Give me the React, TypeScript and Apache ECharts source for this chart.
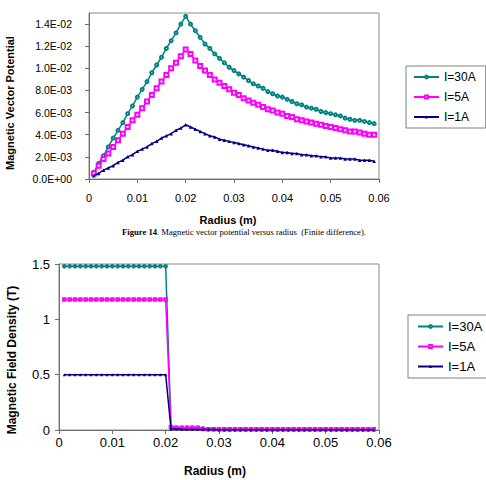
import React, { useEffect, useRef } from "react";
import * as echarts from "echarts";

const seriesNames = ["I=30A", "I=5A", "I=1A"];
const colors = ["#008080", "#FF00FF", "#000080"];

const radius = [
  0.001, 0.002, 0.003, 0.004, 0.005, 0.006, 0.007, 0.008, 0.009, 0.010,
  0.011, 0.012, 0.013, 0.014, 0.015, 0.016, 0.017, 0.018, 0.019, 0.020,
  0.021, 0.022, 0.023, 0.024, 0.025, 0.026, 0.027, 0.028, 0.029, 0.030,
  0.031, 0.032, 0.033, 0.034, 0.035, 0.036, 0.037, 0.038, 0.039, 0.040,
  0.041, 0.042, 0.043, 0.044, 0.045, 0.046, 0.047, 0.048, 0.049, 0.050,
  0.051, 0.052, 0.053, 0.054, 0.055, 0.056, 0.057, 0.058, 0.059,
];

// Magnetic vector potential
const aI30 = [
  0.0006, 0.0014, 0.0021, 0.0029, 0.0037, 0.0044, 0.0051, 0.0059, 0.0066, 0.0074,
  0.0081, 0.0088, 0.0096, 0.0103, 0.0110, 0.0118, 0.0125, 0.0132, 0.0140, 0.0147,
  0.0140, 0.0134, 0.0128, 0.0122, 0.0118, 0.0113, 0.0109, 0.0105, 0.0101, 0.0098,
  0.0095, 0.0092, 0.0089, 0.0086, 0.0084, 0.0082, 0.0079, 0.0077, 0.0075, 0.0074,
  0.0072, 0.0070, 0.0068, 0.0067, 0.0065, 0.0064, 0.0063, 0.0061, 0.0060, 0.0059,
  0.0058, 0.0057, 0.0055, 0.0054, 0.0053, 0.0053, 0.0052, 0.0051, 0.0050,
];
const aI5 = [
  0.0005, 0.0012, 0.0018, 0.0023, 0.0029, 0.0035, 0.0041, 0.0047, 0.0053, 0.0058,
  0.0064, 0.0070, 0.0076, 0.0082, 0.0088, 0.0094, 0.0100, 0.0105, 0.0111, 0.0117,
  0.0113, 0.0107, 0.0102, 0.0098, 0.0094, 0.0090, 0.0087, 0.0084, 0.0081, 0.0078,
  0.0076, 0.0073, 0.0071, 0.0069, 0.0067, 0.0065, 0.0063, 0.0062, 0.0060, 0.0059,
  0.0057, 0.0056, 0.0054, 0.0053, 0.0052, 0.0051, 0.0050, 0.0049, 0.0048, 0.0047,
  0.0046, 0.0045, 0.0044, 0.0043, 0.0043, 0.0042, 0.0041, 0.0040, 0.0040,
];
const aI1 = [
  0.0003, 0.0005, 0.0008, 0.0010, 0.0012, 0.0015, 0.0017, 0.0020, 0.0022, 0.0025,
  0.0027, 0.0029, 0.0032, 0.0034, 0.0037, 0.0039, 0.0041, 0.0044, 0.0046, 0.0049,
  0.0047, 0.0045, 0.0043, 0.0041, 0.0039, 0.0038, 0.0036, 0.0035, 0.0034, 0.0033,
  0.0032, 0.0031, 0.0030, 0.0029, 0.0028, 0.0027, 0.0026, 0.0026, 0.0025, 0.0024,
  0.0024, 0.0023, 0.0023, 0.0022, 0.0022, 0.0021, 0.0021, 0.0020, 0.0020, 0.0019,
  0.0019, 0.0019, 0.0018, 0.0018, 0.0018, 0.0017, 0.0017, 0.0017, 0.0016,
];

// Magnetic field density (T)
const bI30 = [
  1.48, 1.48, 1.48, 1.48, 1.48, 1.48, 1.48, 1.48, 1.48, 1.48,
  1.48, 1.48, 1.48, 1.48, 1.48, 1.48, 1.48, 1.48, 1.48, 1.48,
  0.03, 0.02, 0.02, 0.02, 0.02, 0.02, 0.015, 0.006, 0.006, 0.005,
  0.005, 0.005, 0.005, 0.005, 0.005, 0.005, 0.005, 0.005, 0.005, 0.005,
  0.005, 0.005, 0.005, 0.005, 0.005, 0.005, 0.005, 0.005, 0.005, 0.005,
  0.005, 0.005, 0.005, 0.005, 0.005, 0.005, 0.005, 0.005, 0.005,
];
const bI5 = [
  1.18, 1.18, 1.18, 1.18, 1.18, 1.18, 1.18, 1.18, 1.18, 1.18,
  1.18, 1.18, 1.18, 1.18, 1.18, 1.18, 1.18, 1.18, 1.18, 1.18,
  0.025, 0.02, 0.02, 0.02, 0.02, 0.02, 0.01, 0.007, 0.007, 0.007,
  0.007, 0.007, 0.007, 0.007, 0.007, 0.007, 0.007, 0.007, 0.007, 0.007,
  0.007, 0.007, 0.007, 0.007, 0.007, 0.007, 0.007, 0.007, 0.007, 0.007,
  0.007, 0.007, 0.007, 0.007, 0.007, 0.007, 0.007, 0.007, 0.007,
];
const bI1 = [
  0.50, 0.50, 0.50, 0.50, 0.50, 0.50, 0.50, 0.50, 0.50, 0.50,
  0.50, 0.50, 0.50, 0.50, 0.50, 0.50, 0.50, 0.50, 0.50, 0.50,
  0.01, 0.008, 0.006, 0.005, 0.005, 0.004, 0.004, 0.004, 0.004, 0.003,
  0.003, 0.003, 0.003, 0.003, 0.003, 0.003, 0.003, 0.003, 0.003, 0.003,
  0.003, 0.003, 0.003, 0.003, 0.003, 0.003, 0.003, 0.003, 0.003, 0.003,
  0.003, 0.003, 0.003, 0.003, 0.003, 0.003, 0.003, 0.003, 0.003,
];

const topYTicks = [0, 0.002, 0.004, 0.006, 0.008, 0.01, 0.012, 0.014];

const FONT = "'Liberation Sans', Arial, sans-serif";
const SERIF = "'Liberation Serif', 'Times New Roman', serif";
const AXIS_COLOR = "#6e6e6e";

function sci(v: number): string {
  if (v > 0.0141) return "";
  const [m, e] = v.toExponential(1).split("e");
  const n = parseInt(e, 10);
  const sign = n < 0 ? "-" : "+";
  const abs = Math.abs(n);
  return m + "E" + sign + (abs < 10 ? "0" + abs : String(abs));
}

function pairs(ys: number[]) {
  return radius.map((r, i) => [r, ys[i]]);
}

export default function App() {
  const ref = useRef<HTMLDivElement>(null);

  useEffect(() => {
    if (!ref.current) return;
    const chart = echarts.init(ref.current, null, { renderer: "svg" });

    const xAxisBase = (gridIndex: number, fontSize: number, margin: number) => ({
      type: "value",
      gridIndex,
      min: 0,
      max: 0.06,
      interval: 0.01,
      axisLine: { show: true, onZero: false, lineStyle: { color: AXIS_COLOR, width: 1 } },
      axisTick: { show: true, length: 4, lineStyle: { color: AXIS_COLOR } },
      axisLabel: { color: "#000", fontSize, fontFamily: FONT, margin },
      splitLine: { show: false },
    });

    const topSymbols = ["emptyCircle", "emptyRect", "triangle"];
    const topSizes = [3, 4, 3.5];
    const botSymbols = ["emptyCircle", "emptyRect", "triangle"];
    const botSizes = [2.5, 2.5, 3];
    const aData = [aI30, aI5, aI1];
    const bData = [bI30, bI5, bI1];

    const series: any[] = [];
    for (let i = 0; i < 3; i++) {
      series.push({
        type: "line",
        name: seriesNames[i],
        xAxisIndex: 0,
        yAxisIndex: 0,
        data: pairs(aData[i]),
        symbol: topSymbols[i],
        symbolSize: topSizes[i],
        showAllSymbol: true,
        lineStyle: { color: colors[i], width: 1.5 },
        itemStyle: { color: colors[i], borderWidth: 1 },
        z: 3 + i,
      });
    }
    for (let i = 0; i < 3; i++) {
      series.push({
        type: "line",
        name: seriesNames[i],
        xAxisIndex: 1,
        yAxisIndex: 1,
        data: pairs(bData[i]),
        symbol: botSymbols[i],
        symbolSize: botSizes[i],
        showAllSymbol: true,
        lineStyle: { color: colors[i], width: 1.5 },
        itemStyle: { color: colors[i], borderWidth: 1 },
        z: 3 + i,
      });
    }

    const legendBase = {
      orient: "vertical",
      itemWidth: 25,
      itemHeight: 3.5,
      borderColor: "#808080",
      borderWidth: 1,
      backgroundColor: "#fff",
      data: seriesNames,
      selectedMode: false,
    };

    chart.setOption({
      animation: false,
      backgroundColor: "#fff",
      textStyle: { fontFamily: FONT },
      grid: [
        { left: 89, top: 13, width: 290, height: 166, show: true, borderColor: "#8c8c8c", borderWidth: 1, backgroundColor: "#fff" },
        { left: 59, top: 264, width: 320, height: 166, show: true, borderColor: "#8c8c8c", borderWidth: 1, backgroundColor: "#fff" },
      ],
      xAxis: [xAxisBase(0, 11, 13), xAxisBase(1, 13, 6)],
      yAxis: [
        {
          type: "value",
          gridIndex: 0,
          min: 0,
          max: 0.015,
          interval: 0.002,
          axisLine: { show: true, onZero: false, lineStyle: { color: AXIS_COLOR, width: 1 } },
          axisTick: { show: true, length: 4, lineStyle: { color: AXIS_COLOR }, customValues: topYTicks },
          axisLabel: { color: "#000", fontSize: 10.5, fontFamily: FONT, margin: 17, formatter: sci, customValues: topYTicks },
          splitLine: { show: false },
        },
        {
          type: "value",
          gridIndex: 1,
          min: 0,
          max: 1.5,
          interval: 0.5,
          axisLine: { show: true, onZero: false, lineStyle: { color: AXIS_COLOR, width: 1 } },
          axisTick: { show: true, length: 4, lineStyle: { color: AXIS_COLOR } },
          axisLabel: { color: "#000", fontSize: 13, fontFamily: FONT, margin: 9 },
          splitLine: { show: false },
        },
      ],
      legend: [
        {
          ...legendBase,
          left: 406,
          top: 66,
          padding: [4, 10, 4, 7],
          itemGap: 6,
          textStyle: { fontSize: 12, color: "#000", fontFamily: FONT, lineHeight: 14 },
        },
        {
          ...legendBase,
          left: 408,
          top: 315,
          padding: [4, 6, 4, 9],
          itemGap: 5,
          textStyle: { fontSize: 13, color: "#000", fontFamily: FONT, lineHeight: 15 },
        },
      ],
      graphic: [
        {
          type: "text",
          x: 10,
          y: 103,
          rotation: Math.PI / 2,
          style: {
            text: "Magnetic Vector Potential",
            font: "bold 11px " + FONT,
            fill: "#000",
            align: "center",
            verticalAlign: "middle",
            textAlign: "center",
            textVerticalAlign: "middle",
          },
        },
        {
          type: "text",
          x: 228,
          y: 220,
          style: {
            text: "Radius (m)",
            font: "bold 11px " + FONT,
            fill: "#000",
            align: "center",
            verticalAlign: "middle",
            textAlign: "center",
            textVerticalAlign: "middle",
          },
        },
        {
          type: "text",
          x: 244,
          y: 232,
          style: {
            text: "{b|Figure 14}. Magnetic vector potential versus radius  (Finite difference).",
            font: "8.6px " + SERIF,
            fill: "#000",
            align: "center",
            verticalAlign: "middle",
            textAlign: "center",
            textVerticalAlign: "middle",
            rich: {
              b: { fontWeight: "bold", fontSize: 8.6, fontFamily: SERIF },
            },
          },
        },
        {
          type: "text",
          x: 12,
          y: 360,
          rotation: Math.PI / 2,
          style: {
            text: "Magnetic Field Density (T)",
            font: "bold 12px " + FONT,
            fill: "#000",
            align: "center",
            verticalAlign: "middle",
            textAlign: "center",
            textVerticalAlign: "middle",
          },
        },
        {
          type: "text",
          x: 215,
          y: 471,
          style: {
            text: "Radius (m)",
            font: "bold 12px " + FONT,
            fill: "#000",
            align: "center",
            verticalAlign: "middle",
            textAlign: "center",
            textVerticalAlign: "middle",
          },
        },
      ],
      series,
    });

    return () => {
      chart.dispose();
    };
  }, []);

  return (
    <div
      ref={ref}
      style={{ position: "absolute", left: 0, top: 0, width: 486, height: 480, background: "#fff" }}
    />
  );
}
